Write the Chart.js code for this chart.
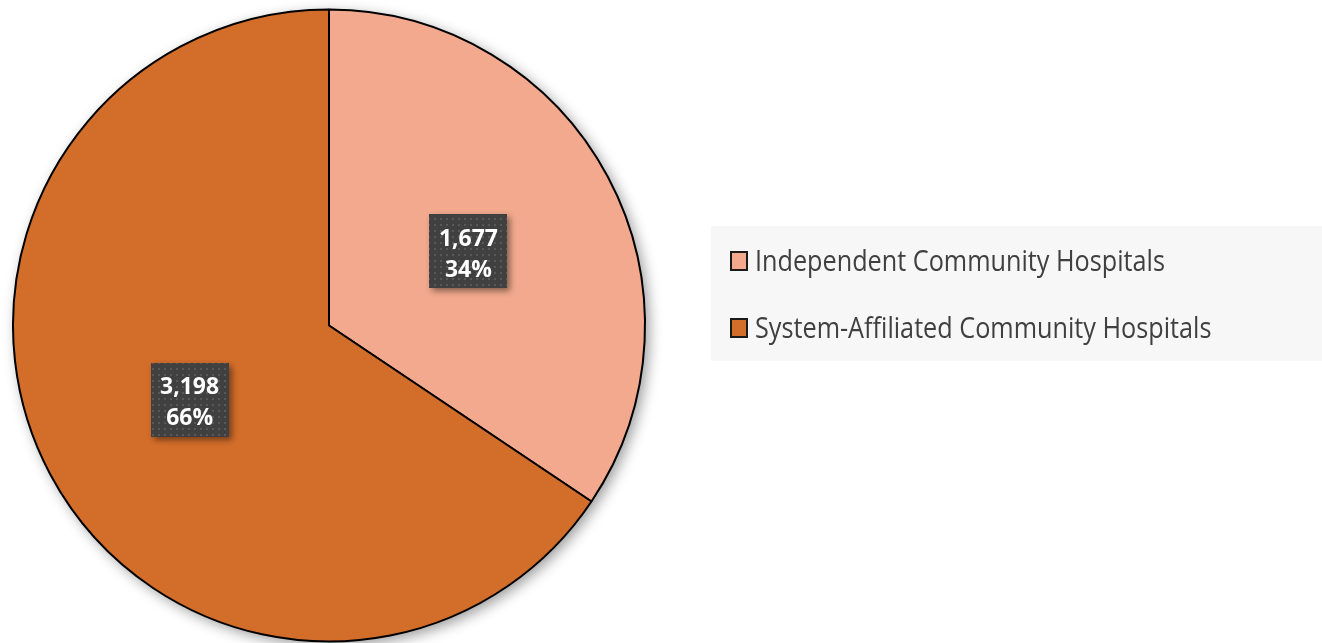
<!DOCTYPE html>
<html>
<head>
<meta charset="utf-8">
<script src="https://cdn.jsdelivr.net/npm/chart.js@4.4.0/dist/chart.umd.min.js"></script>
<style>
  html, body { margin: 0; padding: 0; background: #fff; }
  #wrap { width: 1322px; height: 643px; position: relative; }
</style>
</head>
<body>
<div id="wrap"><canvas id="pieChart"></canvas></div>
<script>
// chart data
const categories = ["Independent Community Hospitals", "System-Affiliated Community Hospitals"];
const hospitalCounts = [1677, 3198];
const percentLabels = ["34%", "66%"];
const sliceColors = ["#F2A98D", "#D36D2A"];

// dotted fill for the data label boxes
function makeDotPattern(ctx) {
  const p = document.createElement("canvas");
  p.width = 6; p.height = 6;
  const pc = p.getContext("2d");
  pc.fillStyle = "#404040";
  pc.fillRect(0, 0, 6, 6);
  pc.fillStyle = "#585858";
  pc.fillRect(2, 2, 2, 2);
  return ctx.createPattern(p, "repeat");
}

// soft shadow under the whole pie
const pieShadow = {
  id: "pieShadow",
  beforeDatasetsDraw(chart) {
    const arc = chart.getDatasetMeta(0).data[0];
    if (!arc) return;
    const { x, y, outerRadius } = arc.getProps(["x", "y", "outerRadius"], true);
    const ctx = chart.ctx;
    ctx.save();
    ctx.shadowColor = "rgba(0,0,0,0.4)";
    ctx.shadowBlur = 14;
    ctx.shadowOffsetX = 4;
    ctx.shadowOffsetY = 4;
    ctx.fillStyle = "#ffffff";
    ctx.beginPath();
    ctx.arc(x, y, outerRadius, 0, Math.PI * 2);
    ctx.fill();
    ctx.restore();
  }
};

// value + percent labels in dark boxes
const boxLabels = {
  id: "boxLabels",
  afterDatasetsDraw(chart) {
    const ctx = chart.ctx;
    const pattern = makeDotPattern(ctx);
    chart.getDatasetMeta(0).data.forEach((arc, i) => {
      const pos = arc.tooltipPosition();
      const w = 78, h = 74;
      const bx = Math.round(pos.x - w / 2), by = Math.round(pos.y - h / 2);
      ctx.save();
      ctx.shadowColor = "rgba(0,0,0,0.45)";
      ctx.shadowBlur = 6;
      ctx.shadowOffsetX = 3;
      ctx.shadowOffsetY = 3;
      ctx.fillStyle = pattern;
      ctx.fillRect(bx, by, w, h);
      ctx.restore();

      ctx.save();
      ctx.fillStyle = "#ffffff";
      ctx.font = "bold 23px 'Open Sans'";
      ctx.textAlign = "center";
      ctx.textBaseline = "middle";
      const valueText = hospitalCounts[i].toLocaleString("en-US");
      const sx = 59 / ctx.measureText(valueText).width;
      drawNarrow(ctx, valueText, pos.x, pos.y - 12, sx);
      drawNarrow(ctx, percentLabels[i], pos.x, pos.y + 19, sx);
      ctx.restore();
    });
  }
};

function drawNarrow(ctx, text, x, y, sx) {
  ctx.save();
  ctx.translate(x, y);
  ctx.scale(sx, 1);
  ctx.fillText(text, 0, 0);
  ctx.restore();
}

// legend drawn in its own grey box on the right
const sideLegend = {
  id: "sideLegend",
  afterDraw(chart) {
    const ctx = chart.ctx;
    ctx.save();
    ctx.fillStyle = "#F7F7F7";
    ctx.fillRect(711, 226, 611, 135);
    ctx.font = "30px 'Open Sans'";
    ctx.textBaseline = "middle";
    ctx.textAlign = "left";
    const sx = 410 / ctx.measureText(categories[0]).width;
    const rows = [261, 328];
    categories.forEach((label, i) => {
      const cy = rows[i];
      ctx.fillStyle = sliceColors[i];
      ctx.fillRect(731, cy - 9, 16, 18);
      ctx.strokeStyle = "#1a1a1a";
      ctx.lineWidth = 2;
      ctx.strokeRect(731, cy - 9, 16, 18);
      ctx.fillStyle = "#404040";
      ctx.save();
      ctx.translate(755, cy + 1);
      ctx.scale(sx, 1);
      ctx.fillText(label, 0, 0);
      ctx.restore();
    });
    ctx.restore();
  }
};

const ctx = document.getElementById("pieChart").getContext("2d");

new Chart(ctx, {
  type: "pie",
  data: {
    labels: categories,
    datasets: [
      {
        data: hospitalCounts,
        backgroundColor: sliceColors,
        borderColor: "#000000",
        borderWidth: 2
      }
    ]
  },
  options: {
    responsive: true,
    maintainAspectRatio: false,
    animation: false,
    layout: {
      padding: { left: 12, right: 676, top: 8, bottom: 0 }
    },
    plugins: {
      legend: { display: false },
      tooltip: { enabled: false }
    }
  },
  plugins: [pieShadow, boxLabels, sideLegend]
});
</script>
</body>
</html>
